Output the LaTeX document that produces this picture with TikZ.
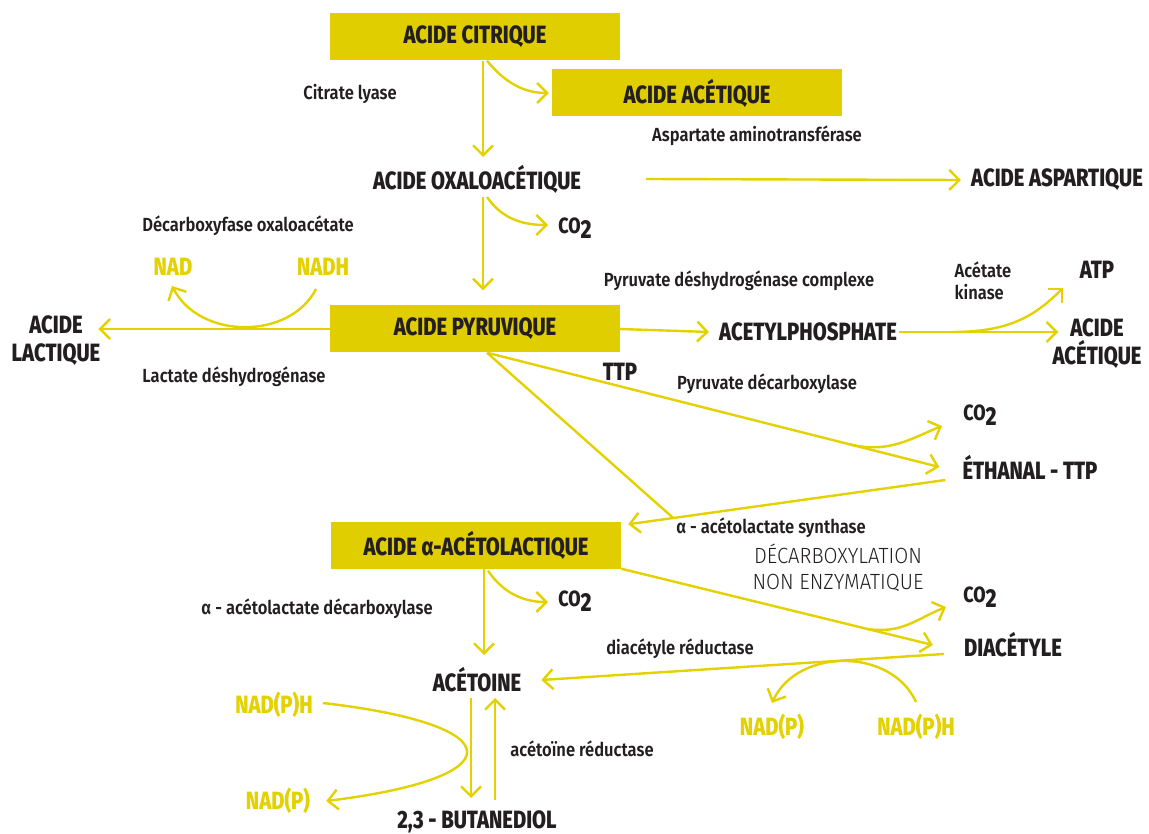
\documentclass[tikz,border=0pt]{standalone}
\usepackage{fontspec}
\setmainfont{Fira Sans}[FakeStretch=0.76]
\newfontfamily\heavyfont{Fira Sans ExtraBold}[FakeStretch=0.81]
\newfontfamily\medfont{Fira Sans SemiBold}[FakeStretch=0.87]
\newfontfamily\lightfont{Fira Sans Light}[FakeStretch=0.92]
\usetikzlibrary{arrows.meta}
\definecolor{boxyellow}{HTML}{E0CE00}
\definecolor{flowyellow}{HTML}{E3D100}
\definecolor{ink}{HTML}{231F20}
\newcommand\cotwo{{\fontsize{22}{22}\selectfont CO}\raisebox{-5pt}{\fontsize{26}{26}\selectfont 2}}

\begin{document}
\begin{tikzpicture}[x=1pt,y=-1pt,
  >={Straight Barb[length=10pt,width=20pt]},
  box/.style={fill=boxyellow,minimum width=290pt,minimum height=47pt,inner sep=0pt,
    font=\heavyfont\fontsize{25}{28}\selectfont,text=ink},
  chem/.style={font=\heavyfont\fontsize{25}{28}\selectfont,text=ink,inner sep=2pt},
  enz/.style={font=\medfont\fontsize{19}{22}\selectfont,text=ink,inner sep=2pt},
  cof/.style={font=\heavyfont\fontsize{25}{28}\selectfont,text=flowyellow,inner sep=2pt},
  flow/.style={draw=flowyellow,line width=2.4pt}]
\useasboundingbox (0,0) rectangle (1149,834);

\node (citrique) [box] at (475,37) {ACIDE CITRIQUE};
\node (acetique) [box] at (697,93) {ACIDE ACÉTIQUE};
\node (lyase) [enz] at (350,94) {Citrate lyase};
\node (aspat) [enz] at (757,136) {Aspartate aminotransférase};
\node (oxalo) [chem] at (477,179) {ACIDE OXALOACÉTIQUE};
\node (aspartique) [chem] at (1057,180) {ACIDE ASPARTIQUE};
\node (co2a) [chem] at (575,228) {\cotwo};
\node (decox) [enz] at (248,226) {Décarboxyfase oxaloacétate};
\node (nad) [cof] at (173,267) {NAD};
\node (nadh) [cof] at (323,267) {NADH};
\node (pyruvique) [box] at (475,329) {ACIDE PYRUVIQUE};
\node (lactique) [chem,align=center] at (56,341) {ACIDE\\LACTIQUE};
\node (ldh) [enz] at (234,377) {Lactate déshydrogénase};
\node (acetylp) [chem] at (808,332) {ACETYLPHOSPHATE};
\node (pdhc) [enz] at (739,281) {Pyruvate déshydrogénase complexe};
\node (acetiqueb) [chem,align=center] at (1097,344) {ACIDE\\ACÉTIQUE};
\node (atp) [chem] at (1097,270) {ATP};
\node (ackin) [enz,align=left] at (983,281) {Acétate\\kinase};
\node (ttp) [chem] at (620,372) {TTP};
\node (pdc) [enz] at (767,384) {Pyruvate décarboxylase};
\node (co2b) [chem] at (980,415) {\cotwo};
\node (ethanal) [chem] at (1030,467) {ÉTHANAL - TTP};
\node (acetolac) [box] at (476,545) {ACIDE α-ACÉTOLACTIQUE};
\node (als) [enz] at (771,528) {α - acétolactate synthase};
\node (nonenz) [font=\lightfont\fontsize{22}{26}\selectfont,text=ink,align=center] at (838,568) {DÉCARBOXYLATION\\NON ENZYMATIQUE};
\node (co2c) [chem] at (980,597) {\cotwo};
\node (diacetyle) [chem] at (1013,645) {DIACÉTYLE};
\node (diared) [enz] at (680,649) {diacétyle réductase};
\node (co2d) [chem] at (575,601) {\cotwo};
\node (aldc) [enz] at (317,609) {α - acétolactate décarboxylase};
\node (acetoine) [chem] at (477,680) {ACÉTOINE};
\node (acred) [enz] at (582,749) {acétoïne réductase};
\node (nadpha) [cof] at (274,705) {NAD(P)H};
\node (nadpa) [cof] at (278,801) {NAD(P)};
\node (butanediol) [chem] at (477,822) {2,3 - BUTANEDIOL};
\node (nadpb) [cof] at (772,727) {NAD(P)};
\node (nadphb) [cof] at (916,727) {NAD(P)H};

% acide citrique
\draw [flow,->] ([xshift=8pt]citrique.south) -- ([xshift=6pt,yshift=22pt]oxalo.center);
\draw [flow,->] ([xshift=12pt]citrique.south) .. controls +(18,22) and +(-25,0) .. ([xshift=-3pt]acetique.west);
\draw [flow,->] ([xshift=63pt]oxalo.east) -- ([xshift=-8pt]aspartique.west);
% acide oxaloacetique
\draw [flow,->] ([xshift=6pt,yshift=-18pt]oxalo.center) -- ([xshift=8pt,yshift=15pt]pyruvique.north);
\draw [flow,->] ([xshift=10pt,yshift=-18pt]oxalo.center) .. controls +(15,22) and +(-25,0) .. ([xshift=-27pt,yshift=3pt]co2a.center);
% acide pyruvique
\draw [flow,->] (pyruvique.west) -- ([xshift=-4pt,yshift=12pt]lactique.east);
\draw [flow,->] ([xshift=-7pt,yshift=-22pt]nadh.center) .. controls +(-26,51) and +(28,54) .. ([xshift=-1pt,yshift=-19pt]nad.center);
\draw [flow,->] (pyruvique.east) -- ([xshift=-8pt]acetylp.west);
\draw [flow,->] (acetylp.east) -- ([xshift=8pt,yshift=12pt]acetiqueb.west) coordinate[pos=0.33] (ackfork);
\draw [flow,->] (ackfork) .. controls +(55,0) and +(-30,30) .. ([xshift=-34pt,yshift=-18pt]atp.center);
\draw [flow,->] ([xshift=12pt]pyruvique.south) -- ([xshift=-21pt]ethanal.west) coordinate[pos=0.8] (ttpfork);
\draw [flow,->] (ttpfork) .. controls +(40,10) and +(-30,12) .. ([xshift=-38pt,yshift=-11pt]co2b.center);
\draw [flow,->] ([xshift=-15pt,yshift=-13pt]ethanal.west) -- ([xshift=7pt,yshift=-3pt]acetolac.north east) coordinate[pos=0.858] (alsjoin);
\draw [flow] ([xshift=12pt]pyruvique.south) -- (alsjoin);
% acide alpha-acetolactique
\draw [flow,->] (acetolac.south east) -- ([xshift=-29pt]diacetyle.west) coordinate[pos=0.79] (dcfork);
\draw [flow,->] (dcfork) .. controls +(35,5) and +(-30,12) .. ([xshift=-34pt,yshift=-10pt]co2c.center);
\draw [flow,->] ([xshift=-18pt,yshift=-9pt]diacetyle.west) -- ([xshift=18pt]acetoine.east);
\draw [flow,->] ([yshift=25pt]nadphb.center) .. controls +(-25,-55) and +(25,-55) .. ([yshift=24pt]nadpb.center);
\draw [flow,->] ([xshift=8pt]acetolac.south) -- ([xshift=7pt,yshift=25pt]acetoine.center);
\draw [flow,->] ([xshift=12pt,yshift=-2pt]acetolac.south) .. controls +(15,22) and +(-25,0) .. ([xshift=-27pt,yshift=-1pt]co2d.center);
% acetoine
\draw [flow,->] ([xshift=-6pt,yshift=-18pt]acetoine.center) -- ([xshift=-6pt,yshift=24pt]butanediol.center);
\draw [flow,->] ([xshift=18pt,yshift=22pt]butanediol.center) -- ([xshift=18pt,yshift=-18pt]acetoine.center);
\draw [flow,->] ([xshift=8pt,yshift=2pt]nadpha.east) .. controls +(191,22) and +(188,-23) .. ([xshift=14pt]nadpa.east);
\end{tikzpicture}
\end{document}
